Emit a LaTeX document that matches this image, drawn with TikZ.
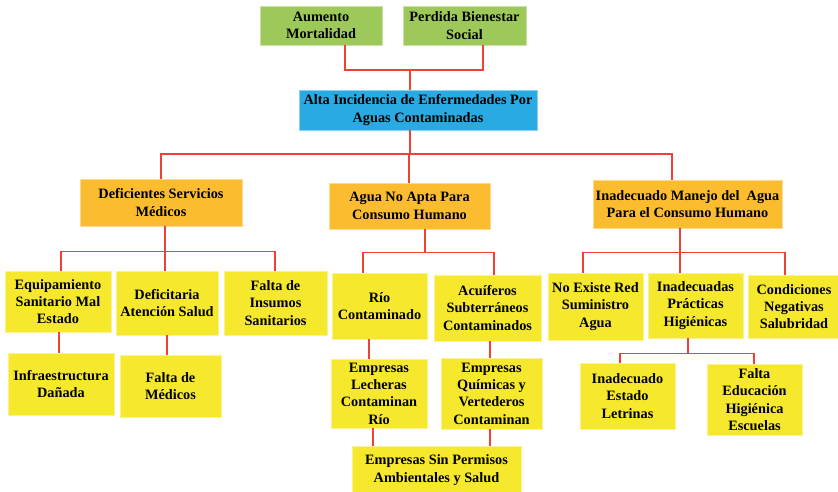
\documentclass[tikz,border=0pt]{standalone}
\usepackage{fontspec}
\setmainfont{Liberation Serif}
\definecolor{cgreen}{HTML}{9DC95B}
\definecolor{cblue}{HTML}{2AAAE2}
\definecolor{corange}{HTML}{FBBD2F}
\definecolor{cyellow}{HTML}{F6E92D}
\definecolor{clink}{HTML}{EF4136}
\begin{document}
\begin{tikzpicture}[x=1pt,y=-1pt,
  box/.style={draw=#1!55!white, line width=0.8pt, fill=#1, inner sep=0pt, align=center,
    font=\fontsize{14.3}{17.3}\selectfont\bfseries},
  sz/.style 2 args={minimum width=#1pt, minimum height=#2pt},
  link/.style={draw=clink, line width=1.8pt}]
\useasboundingbox (0,0) rectangle (838,492);
% effects
\node[box=cgreen, sz={122}{39}] (aum) at (321,25.5) {Aumento\\Mortalidad};
\node[box=cgreen, sz={123}{39}] (pb) at (464.5,25.5) {Perdida Bienestar\\Social};
% central problem
\node[box=cblue, sz={238}{40}] (alta) at (418,110) {Alta Incidencia de Enfermedades Por\\Aguas Contaminadas};
% direct causes
\node[box=corange, sz={162}{47}] (dsm) at (161,202.5) {Deficientes Servicios\\Médicos};
\node[box=corange, sz={161}{46}] (agua) at (409.5,206) {Agua No Apta Para\\Consumo Humano};
\node[box=corange, sz={189}{48}] (iman) at (687.5,204) {Inadecuado Manejo del\ \ Agua\\Para el Consumo Humano};
% secondary causes
\node[box=cyellow, sz={106}{61}] (equip) at (58,301.5) {Equipamiento\\Sanitario Mal\\Estado};
\node[box=cyellow, sz={102}{64}] (defat) at (167,303) {Deficitaria\\Atención Salud};
\node[box=cyellow, sz={103}{64}] (insum) at (275.5,303) {Falta de\\Insumos\\Sanitarios};
\node[box=cyellow, sz={106}{62}] (infra) at (61,384) {Infraestructura\\Dañada};
\node[box=cyellow, sz={101}{62}] (medic) at (170.5,386) {Falta de\\Médicos};
\node[box=cyellow, sz={95}{66}] (rio) at (379.5,306) {Río\\Contaminado};
\node[box=cyellow, sz={107}{66}] (acui) at (487.5,308) {Acuíferos\\Subterráneos\\Contaminados};
\node[box=cyellow, sz={96}{69}] (lech) at (379,393.5) {Empresas\\Lecheras\\Contaminan\\Río};
\node[box=cyellow, sz={101}{71}] (quim) at (491.5,393.5) {Empresas\\Químicas y\\Vertederos\\Contaminan};
\node[box=cyellow, sz={169}{48}] (sinp) at (436.5,470) {Empresas Sin Permisos\\Ambientales y Salud};
\node[box=cyellow, sz={95}{67}] (noex) at (595.5,306.5) {No Existe Red\\Suministro\\Agua};
\node[box=cyellow, sz={95}{65}] (iprac) at (695.5,305.5) {Inadecuadas\\Prácticas\\Higiénicas};
\node[box=cyellow, sz={92}{63}] (cond) at (794,306.5) {Condiciones\\Negativas\\Salubridad};
\node[box=cyellow, sz={95}{66}] (letr) at (627.5,396) {Inadecuado\\Estado\\Letrinas};
\node[box=cyellow, sz={95}{71}] (educ) at (754.5,399.5) {Falta\\Educación\\Higiénica\\Escuelas};
% connectors
\draw[link] ([xshift=24pt]aum.south) -- ++(0,25) -| ([xshift=-8pt]alta.north);
\draw[link] ([xshift=18.5pt]pb.south) -- ++(0,25) -| ([xshift=-8pt]alta.north);
\draw[link] ([xshift=-8pt]alta.south) -- ++(0,24) -| (dsm.north);
\draw[link] ([xshift=-8pt]alta.south) -- ++(0,24) -| ([xshift=-0.5pt]agua.north);
\draw[link] ([xshift=-8pt]alta.south) -- ++(0,24) -| ([xshift=-15.5pt]iman.north);
\draw[link] ([xshift=4pt]dsm.south) -- ++(0,25) -| ([xshift=3pt]equip.north);
\draw[link] ([xshift=4pt]dsm.south) -- ++(0,25) -| ([xshift=-2pt]defat.north);
\draw[link] ([xshift=4pt]dsm.south) -- ++(0,25) -| ([xshift=-0.5pt]insum.north);
\draw[link] ([xshift=1pt]equip.south) -- ([xshift=-2pt]infra.north);
\draw[link] (defat.south) -- ([xshift=-3.5pt]medic.north);
\draw[link] ([xshift=15.5pt]agua.south) -- ++(0,23) -| ([xshift=-16.5pt]rio.north);
\draw[link] ([xshift=15.5pt]agua.south) -- ++(0,23) -| ([xshift=6.5pt]acui.north);
\draw[link] ([xshift=-10.5pt]rio.south) -- ([xshift=-10pt]lech.north);
\draw[link] ([xshift=2.5pt]acui.south) -- ([xshift=-1.5pt]quim.north);
\draw[link] ([xshift=-6pt]lech.south) -- ([xshift=-63.5pt]sinp.north);
\draw[link] ([xshift=-1.5pt]quim.south) -- ([xshift=53.5pt]sinp.north);
\draw[link] ([xshift=-7.5pt]iman.south) -- ++(0,24) -| ([xshift=-12.5pt]noex.north);
\draw[link] ([xshift=-7.5pt]iman.south) -- ++(0,24) -| ([xshift=-15.5pt]iprac.north);
\draw[link] ([xshift=-7.5pt]iman.south) -- ++(0,24) -| ([xshift=-9pt]cond.north);
\draw[link] ([xshift=-7.5pt]iprac.south) -- ++(0,15) -| ([xshift=-7.5pt]letr.north);
\draw[link] ([xshift=-7.5pt]iprac.south) -- ++(0,15) -| ([xshift=-0.5pt]educ.north);
\end{tikzpicture}
\end{document}
